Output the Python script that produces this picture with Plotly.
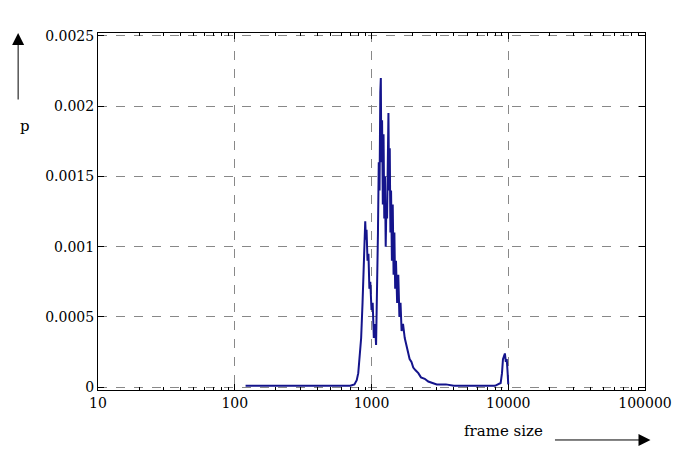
import plotly.graph_objects as go

frame_size = [120, 200, 300, 400, 500, 600, 700, 750, 780, 800, 820, 840, 860, 875, 890, 900, 910, 920, 935, 950, 965, 980, 1000,
              1020, 1040, 1060, 1080, 1100, 1115, 1130, 1145, 1160, 1170, 1180, 1195, 1210, 1225, 1240, 1255, 1270, 1285,
              1300, 1315, 1330, 1345, 1360, 1375, 1390, 1410, 1430, 1450, 1470, 1490, 1510, 1540, 1570, 1600, 1630, 1660,
              1700, 1750, 1800, 1850, 1900, 1960, 2020, 2100, 2200, 2300, 2450, 2600, 2800, 3000, 3500, 4000, 5000, 6000,
              7000, 8000, 8800, 9000, 9150, 9300, 9450, 9600, 9750, 9900, 10000]
p = [0.00001, 0.00001, 0.00001, 0.00001, 0.00001, 0.00001, 0.00001, 0.00002, 0.00005, 0.0001, 0.0002, 0.00035, 0.0006, 0.0008,
     0.001, 0.00118, 0.00105, 0.00112, 0.0009, 0.00095, 0.0007, 0.00075, 0.00055,
     0.0006, 0.00035, 0.00045, 0.0003, 0.0007, 0.0011, 0.0016, 0.0014, 0.0021, 0.0022, 0.0016, 0.0019, 0.0013, 0.0018, 0.0012,
     0.0015, 0.001, 0.0013, 0.0012, 0.00185, 0.00195, 0.0014, 0.0017, 0.0011, 0.0014, 0.0009, 0.0013, 0.0008,
     0.0011, 0.0007, 0.0009, 0.0006, 0.0008, 0.0005, 0.0006, 0.0004, 0.00045, 0.00035, 0.0003, 0.00025,
     0.0002, 0.00018, 0.00014, 0.00012, 0.0001, 0.00007, 0.00006, 0.00004, 0.00003, 0.00002, 0.00002, 0.00001, 0.00001,
     0.00001, 0.00001, 0.00001, 0.00003, 0.0001, 0.0002, 0.00023, 0.00024, 0.00018, 0.0002, 0.0001, 0.00002]

x_ticks = [10, 100, 1000, 10000, 100000]
x_labels = ["10", "100", "1000", "10000", "100000"]
y_ticks = [0, 0.0005, 0.001, 0.0015, 0.002, 0.0025]
y_labels = ["0", "0.0005", "0.001", "0.0015", "0.002", "0.0025"]

minor_x = [m * d for d in (10, 100, 1000, 10000) for m in range(2, 10)]

fig = go.Figure(go.Scatter(x=frame_size, y=p, mode="lines",
                           line=dict(color="#14148c", width=2), showlegend=False))

axis_common = dict(showline=True, linecolor="black", linewidth=1, mirror="ticks",
                   ticks="inside", ticklen=6, tickcolor="black",
                   showgrid=True, gridcolor="#888888", griddash="dash", gridwidth=1,
                   zeroline=False)

fig.update_xaxes(type="log", range=[1, 5.0], tickvals=x_ticks, ticktext=x_labels,
                 minor=dict(tickmode="array", tickvals=minor_x, ticks="inside", ticklen=3,
                            tickcolor="black", showgrid=False),
                 **axis_common)
fig.update_yaxes(range=[-0.00002, 0.00252], tickvals=y_ticks, ticktext=y_labels, **axis_common)

fig.add_annotation(xref="paper", yref="paper", x=-0.146, y=1.0, ax=0, ay=68,
                   showarrow=True, arrowhead=2, arrowsize=2.4, arrowwidth=1,
                   arrowcolor="black", text="")
fig.add_annotation(xref="paper", yref="paper", x=-0.146, y=0.77, text="p", showarrow=False,
                   font=dict(size=15))
fig.add_annotation(xref="paper", yref="paper", x=1.01, y=-0.14, ax=-97, ay=0,
                   showarrow=True, arrowhead=2, arrowsize=2.4, arrowwidth=1,
                   arrowcolor="black", text="")
fig.add_annotation(xref="paper", yref="paper", x=0.817, y=-0.145, text="frame size", showarrow=False,
                   xanchor="right", font=dict(size=15))

fig.update_layout(width=697, height=461, margin=dict(l=90, r=60, t=25, b=79),
                  plot_bgcolor="white", paper_bgcolor="white",
                  font=dict(family="DejaVu Serif", size=14, color="black"))

fig.write_html("out.html")
